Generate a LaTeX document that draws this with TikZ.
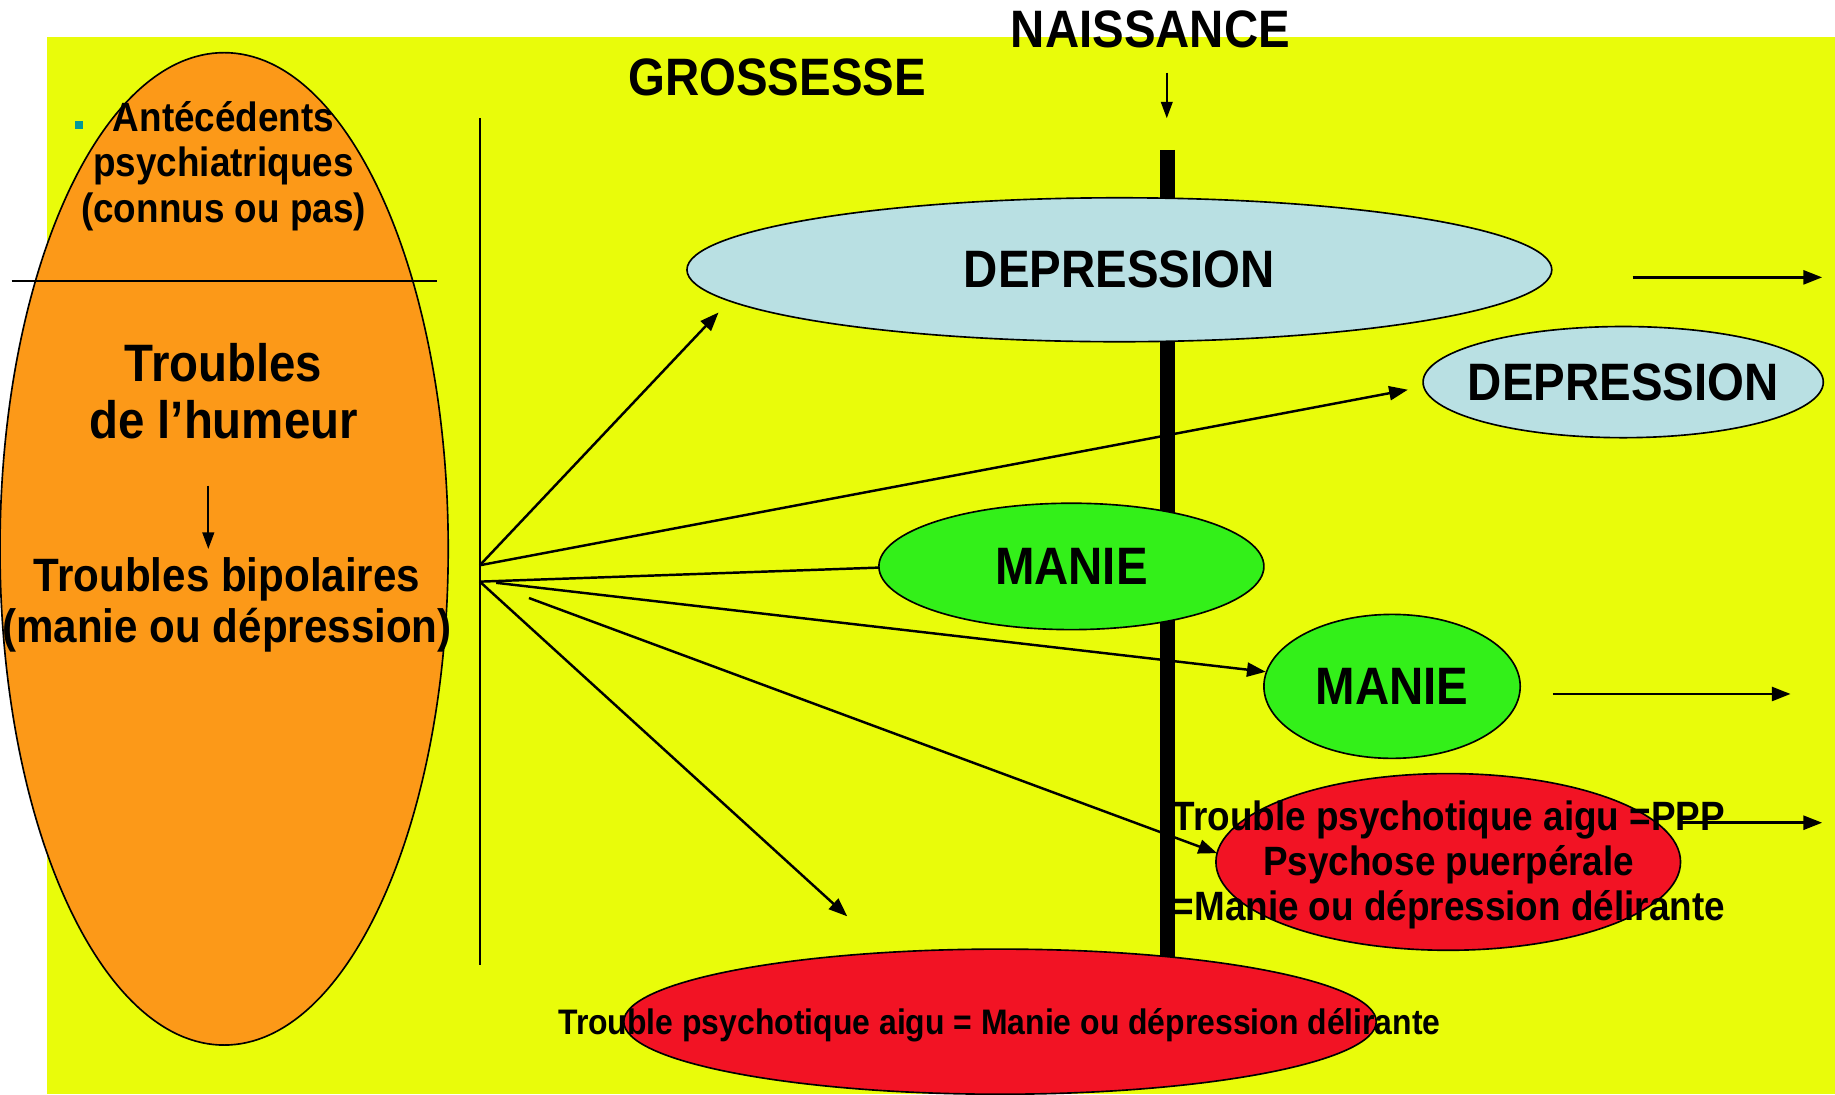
\documentclass[tikz,border=0pt]{standalone}
\usepackage{fontspec}
\setmainfont{Liberation Sans}[FakeStretch=0.9]
\usepackage{tikz}
\usetikzlibrary{calc}
\usetikzlibrary{arrows.meta}
\usetikzlibrary{shapes.geometric}

\definecolor{jaune}{RGB}{233,252,10}
\definecolor{orange}{RGB}{252,153,24}
\definecolor{bleu}{RGB}{185,224,227}
\definecolor{vert}{RGB}{51,240,25}
\definecolor{rouge}{RGB}{242,19,36}
\definecolor{puce}{RGB}{0,153,153}

\tikzstyle{every node}=[font=\bfseries, inner sep=0pt]
\tikzstyle{bulle}=[ellipse, draw=black, line width=1.4pt, inner sep=0pt]
\tikzstyle{fleche}=[line width=2.1pt, -{Triangle[length=16pt,width=12pt]}]
\tikzstyle{petite}=[line width=1.5pt, -{Triangle[length=14pt,width=10pt]}]
\tikzstyle{trait}=[line width=2.1pt]

\begin{document}
\begin{tikzpicture}[x=1pt,y=-1pt]

                \useasboundingbox (0,0) rectangle (1568,935);
                \fill[jaune] (40,32) rectangle (1568,935);

                \coordinate (B1) at (997.5,128);
                \coordinate (B2) at (997.5,870);
                \draw[line width=13pt] (B1) -- (B2);

                \node [bulle, fill=orange, minimum width=383pt, minimum height=848pt] (hist) at (191.5,469) {};

                \node [bulle, fill=bleu, minimum width=739pt, minimum height=123pt] (dep1) at (956.5,230.5) {};
                \node [bulle, fill=bleu, minimum width=342pt, minimum height=95pt] (dep2) at (1387,326.5) {};
                \node [bulle, fill=vert, minimum width=329pt, minimum height=108pt] (man1) at (915.5,484) {};
                \node [bulle, fill=vert, minimum width=219pt, minimum height=123pt] (man2) at (1189.5,586.5) {};
                \node [bulle, fill=rouge, minimum width=397pt, minimum height=151pt] (ppp) at (1237.5,736.5) {};
                \node [bulle, fill=rouge, minimum width=643pt, minimum height=124pt] (tpa) at (854.5,873) {};

                \coordinate (L1) at (410,101);
                \coordinate (L2) at (410,825);
                \draw[line width=1.5pt] (L1) -- (L2);

                \coordinate (H1) at (10,240);
                \coordinate (H2) at (373,240);
                \draw[line width=1.5pt] (H1) -- (H2);

                \fill[puce] (64,103) rectangle (71,110);

                \node [font=\bfseries\fontsize{35}{38.5}\selectfont, align=center] (ante) at (191,142) {Antécédents\\psychiatriques\\(connus ou pas)};
                \node [font=\bfseries\fontsize{45}{49}\selectfont, align=center] (hum) at (191,334) {Troubles\\de l’humeur};
                \node [font=\bfseries\fontsize{40}{43}\selectfont, align=center] (bip) at (194,517) {Troubles bipolaires\\(manie ou dépression)};

                \coordinate (A1) at (178,415);
                \coordinate (A2) at (178,469);
                \draw[petite] (A1) -- (A2);

                \node [font=\bfseries\fontsize{45}{49}\selectfont] (nais) at (983,25) {NAISSANCE};
                \node [font=\bfseries\fontsize{45}{49}\selectfont] (gros) at (664,66) {GROSSESSE};

                \coordinate (N1) at (997,62);
                \coordinate (N2) at (997,101);
                \draw[petite] (N1) -- (N2);

                \node [font=\bfseries\fontsize{45}{49}\selectfont] (dep1t) at (dep1) {DEPRESSION};
                \node [font=\bfseries\fontsize{45}{49}\selectfont] (dep2t) at (dep2) {DEPRESSION};
                \node [font=\bfseries\fontsize{45}{49}\selectfont] (man1t) at (man1) {MANIE};
                \node [font=\bfseries\fontsize{45}{49}\selectfont] (man2t) at (man2) {MANIE};

                \coordinate (O1) at (410,483);
                \coordinate (O2) at (410,497);
                \coordinate (O3) at (424,498);
                \coordinate (O4) at (452,511);

                \coordinate (E1) at (614,267);
                \coordinate (E2) at (1203,333);
                \coordinate (E3) at (751,485);
                \coordinate (E5) at (1040,729);
                \coordinate (E6) at (724,783);

                \draw[fleche] (O1) -- (E1);
                \draw[fleche] (O1) -- (E2);
                \draw[trait] (O2) -- (E3);
                \draw[fleche] (O3) -- (man2);
                \draw[fleche] (O4) -- (E5);
                \draw[fleche] (O2) -- (E6);

                \coordinate (D1) at (1395,237);
                \coordinate (D2) at (1557,237);
                \coordinate (M1) at (1327,593);
                \coordinate (M2) at (1530,593);
                \coordinate (P1) at (1435,703);
                \coordinate (P2) at (1557,703);
                \draw[fleche] (D1) -- (D2);
                \draw[fleche] (M1) -- (M2);
                \draw[fleche] (P1) -- (P2);

                \node [font=\bfseries\fontsize{35}{38.5}\selectfont, align=center] (pppt) at (1238,739) {Trouble psychotique aigu =PPP\\Psychose puerpérale\\=Manie ou dépression délirante};
                \node [font=\bfseries\fontsize{30.3}{36}\selectfont] (tpat) at (854,876) {Trouble psychotique aigu = Manie ou dépression délirante};

            \end{tikzpicture}
\end{document}
